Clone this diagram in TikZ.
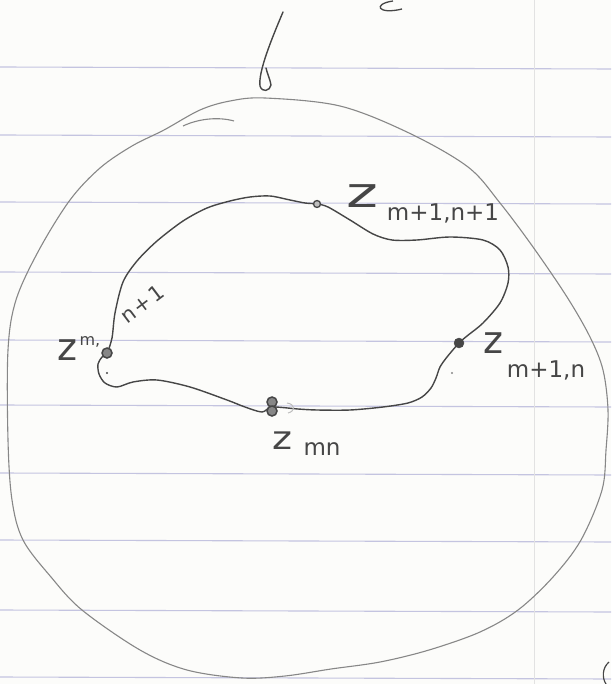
\documentclass[tikz,border=0pt]{standalone}
\usepackage{fontspec}
\setmainfont{DejaVu Sans}
\definecolor{pencil}{RGB}{70,70,70}
\definecolor{pencilL}{RGB}{135,135,135}
\definecolor{pencilF}{RGB}{190,190,190}
\definecolor{ruling}{RGB}{196,196,224}
\definecolor{marg}{RGB}{226,226,226}
\definecolor{paper}{RGB}{252,252,250}
\begin{document}
\begin{tikzpicture}[x=1pt,y=-1pt,
  rule/.style={draw=ruling,line width=1.1pt},
  margline/.style={draw=marg,line width=0.9pt},
  outer/.style={draw=pencilL,line width=1.1pt},
  inner/.style={draw=pencil,line width=1.4pt,line join=round},
  zlbl/.style={text=pencil,inner sep=0pt,font=\fontsize{38}{40}\selectfont},
  sublbl/.style={text=pencil,inner sep=0pt,font=\fontsize{23}{25}\selectfont},
  ptring/.style={draw=pencil,line width=1.5pt,fill=pencilL},
  ptdot/.style={fill=pencil,draw=pencil}]
\fill[paper] (0,0) rectangle (611,684);
\useasboundingbox (0,0) rectangle (611,684);
% ruled paper
\foreach \yy in {67,135,202,272,340,405,473,540,610,677}
  \draw[rule] (0,\yy) -- (611,\yy+2);
\draw[margline] (534,0) -- (534,684);
% outer region
\draw[outer] plot[smooth cycle, tension=0.55] coordinates {
  (265,98) (340,106) (409,133) (468,167) (500,203) (533,247) (567,297)
  (590,337) (603,370) (608,410) (606,450) (602,490) (581,540) (553,577)
  (518,610) (480,632) (429,650) (380,662) (331,669) (285,676) (242,678)
  (187,670) (140,650) (82,610) (51,577) (23,540) (12,500) (8,440) (8,350)
  (16,300) (39,250) (70,200) (100,168) (132,146) (164,130) (200,110) (230,101)};
\draw[outer] (183,126) .. controls (200,118) and (220,117) .. (234,121);
% arrow-like stroke at top
\draw[pencil,line width=1.4pt,line cap=round] (283,12) .. controls (272,38) and (258,72) .. (260,86)
  .. controls (262,93) and (270,91) .. (271,85) .. controls (270,79) and (267,73) .. (266,68);
% partial marks at the edges
\draw[pencil,line width=1.3pt] (393,1) .. controls (372,4) and (378,15) .. (402,9);
\draw[pencil,line width=1.2pt] (609,662) .. controls (602,668) and (602,678) .. (606,684);
% inner contour
\coordinate (cD) at (107,353);
\coordinate (cA) at (317,204);
\coordinate (cB) at (459,343);
\coordinate (cC) at (272,407);
\draw[inner] plot[smooth cycle, tension=0.5] coordinates {
  (cD) (112,338) (115,313) (123,282) (137,261) (157,241) (183,221) (207,208)
  (230,201) (250,197) (270,196) (290,200) (305,203)
  (cA) (328,207) (350,220) (373,234) (392,240) (417,240) (450,237) (483,240)
  (500,250) (508,267) (508,283) (500,303) (483,323) (467,336)
  (cB) (447,357) (440,367) (436,378) (431,388) (422,397) (408,403) (383,407)
  (350,410) (317,410) (298,409)
  (cC) (262,412) (245,407) (227,400) (190,387) (157,380) (133,382) (117,387)
  (105,383) (99,374) (98,364) (102,357)};
\draw[pencilF,line width=1pt] (287,403) .. controls (295,404) and (296,411) .. (288,413);
% marked points
\node[circle,ptring,minimum size=10pt,inner sep=0pt] (pD) at (cD) {};
\node[circle,draw=pencil,line width=1.3pt,fill=pencilF,minimum size=7pt,inner sep=0pt] (pA) at (cA) {};
\node[circle,ptdot,minimum size=10pt,inner sep=0pt] (pB) at (cB) {};
\node[circle,ptring,minimum size=10pt,inner sep=0pt] (pC1) at (272,402) {};
\node[circle,ptring,minimum size=10pt,inner sep=0pt] (pC2) at (272,411) {};
\fill[pencil] (107,373) circle (1.2pt);
\fill[pencilL] (452,373) circle (1.2pt);
% labels
\node[zlbl] (zA) at (362,196) {\scalebox{1.6}[1.1]{z}};
\node[sublbl] (sA) at (443,213) {m+1,n+1};
\node[zlbl] (zB) at (493,343) {z};
\node[sublbl] (sB) at (546,370) {m+1,n};
\node[zlbl] (zC) at (282,441) {\scalebox{1}[0.85]{z}};
\node[sublbl] (sC) at (322,449) {mn};
\node[zlbl] (zD) at (67,350) {z};
\node[sublbl,font=\fontsize{16}{18}\selectfont] (sD) at (90,342) {m,};
\node[sublbl,font=\fontsize{21}{23}\selectfont,rotate=37] (sD2) at (142,304) {n\hspace{2pt}+\hspace{2pt}1};
\end{tikzpicture}
\end{document}
